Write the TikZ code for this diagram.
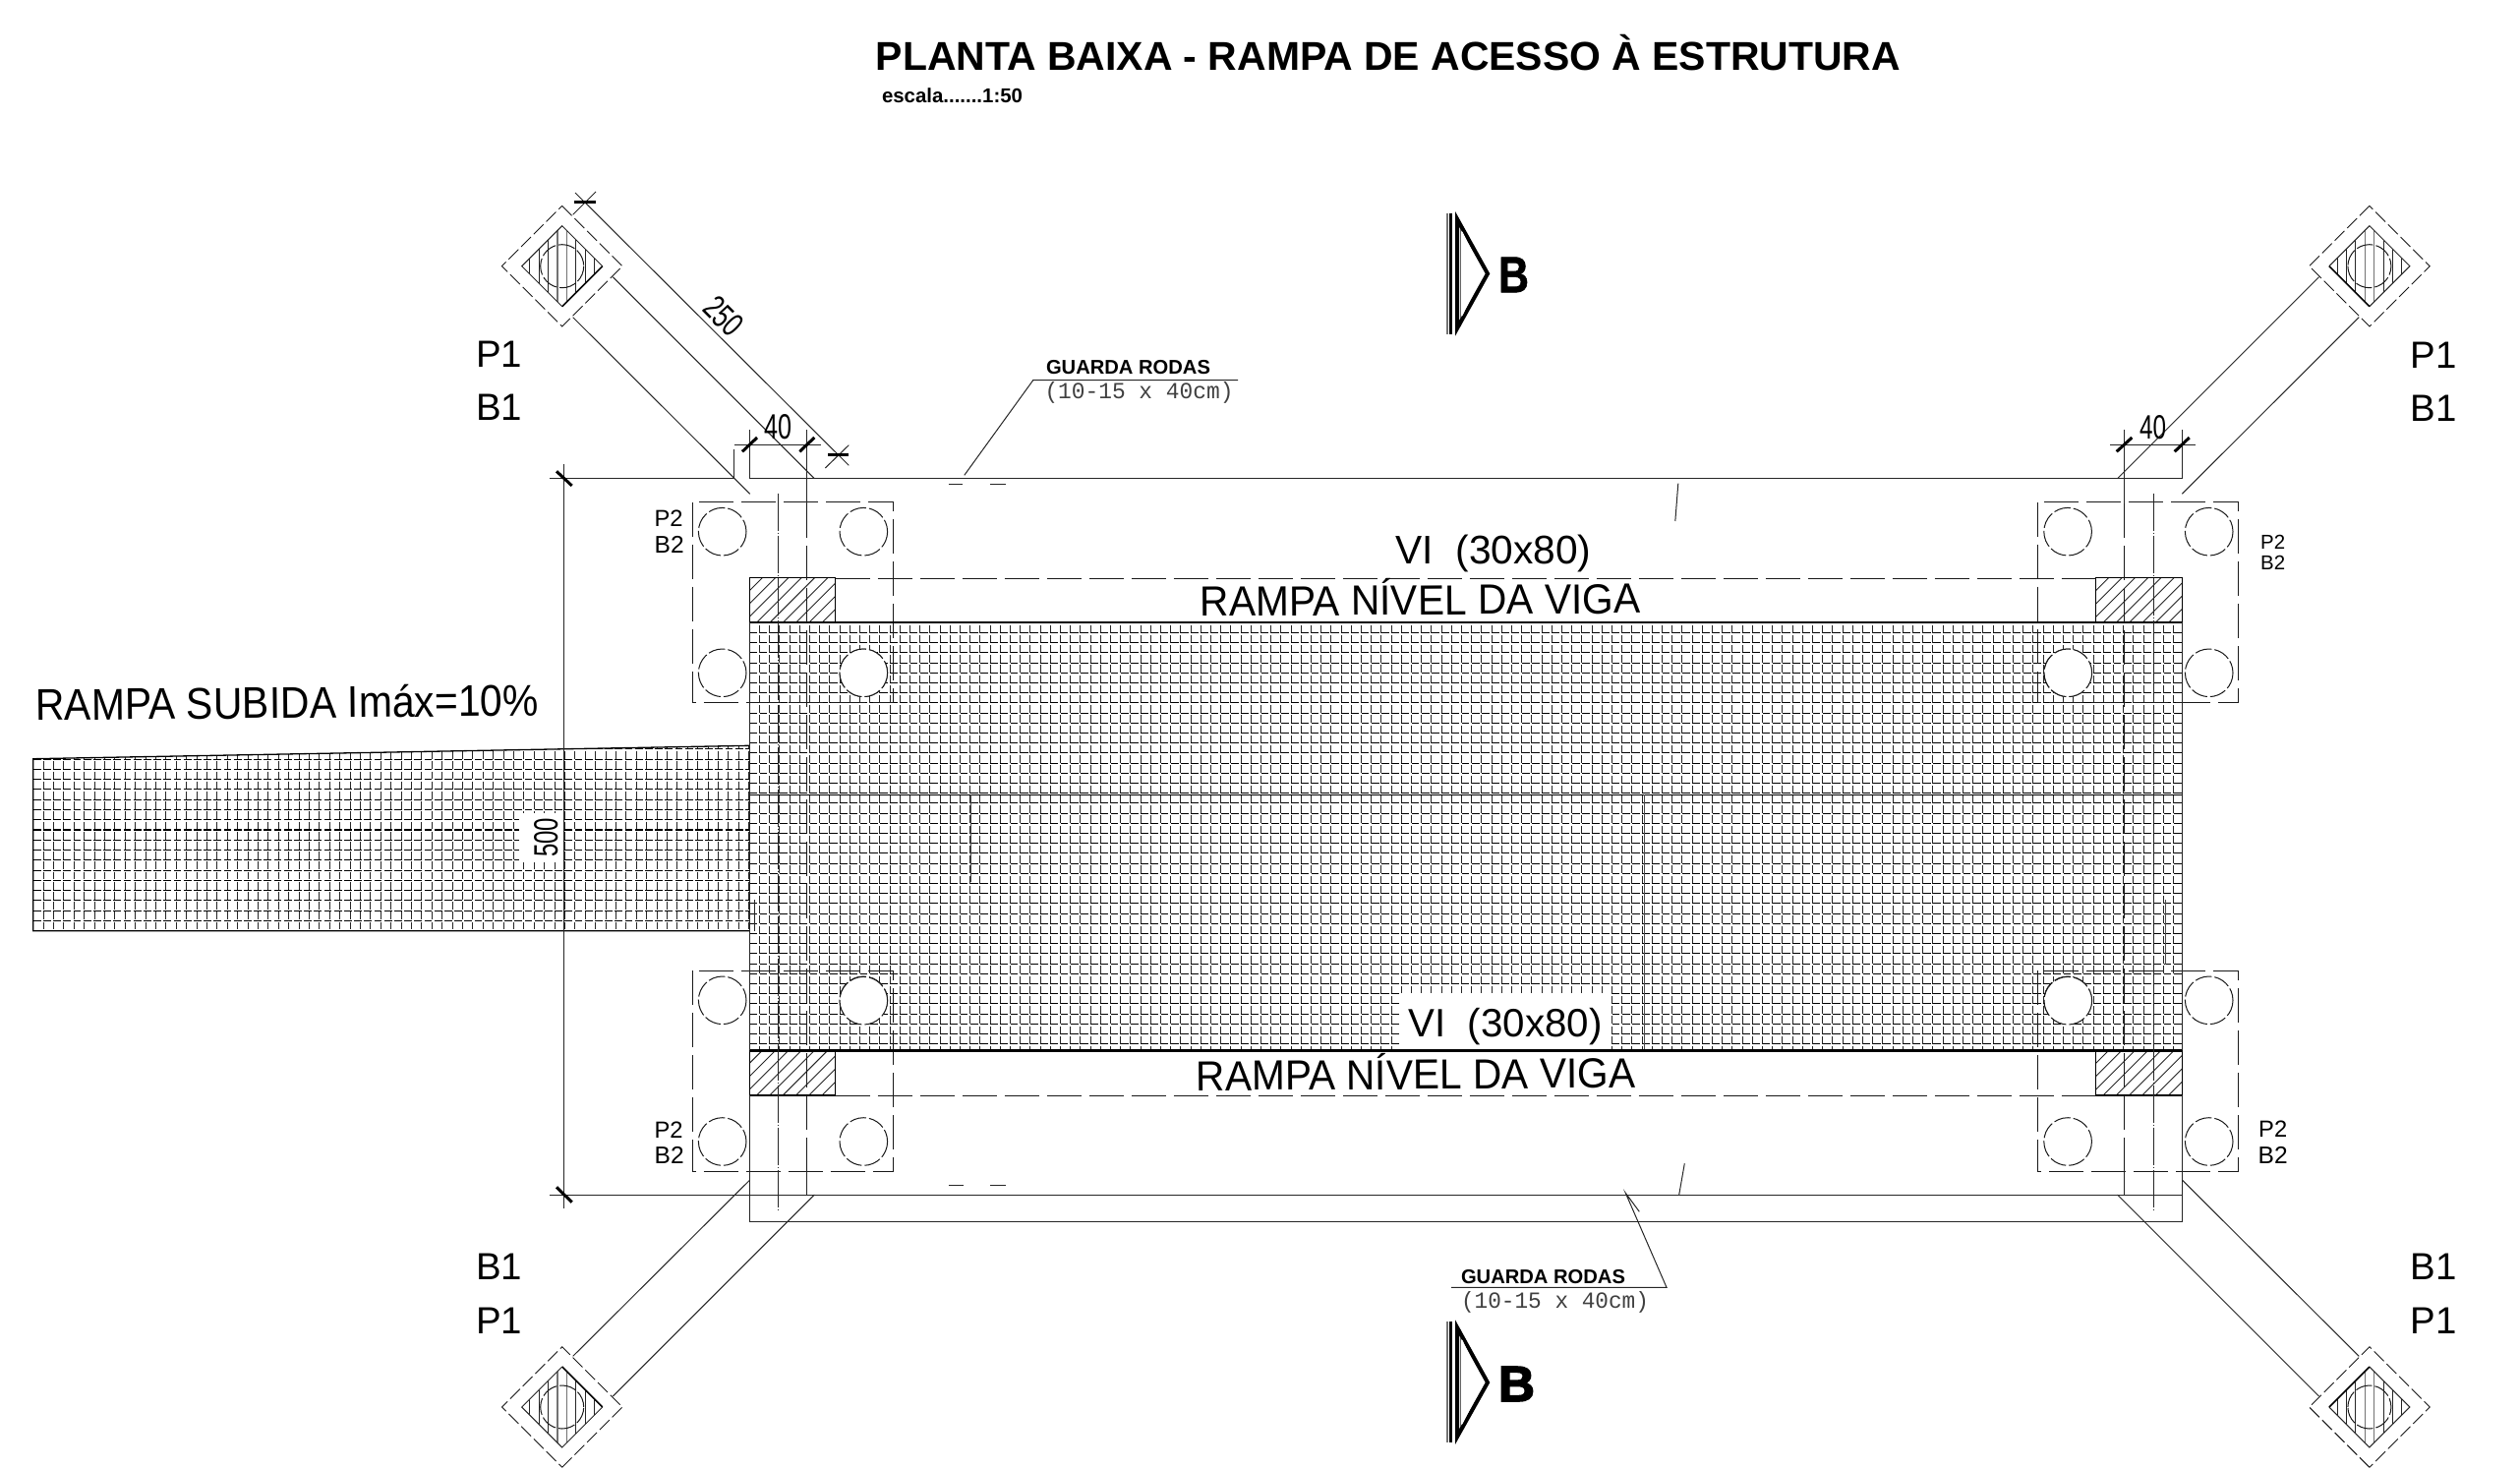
\documentclass[tikz,border=0pt]{standalone}
\usepackage{graphicx}
\usepackage{fontspec}
\setmainfont{Liberation Sans}
\newfontfamily\txtfont{Liberation Mono}
\newfontfamily\heavyfont{Liberation Sans}[BoldFeatures={FakeBold=3}]
\newfontfamily\semifont{Liberation Sans}[BoldFeatures={FakeBold=1.2}]
\newcommand{\fitw}[2]{\resizebox{#1pt}{!}{\fontsize{40}{40}\selectfont #2}}
\newcommand{\fitwh}[3]{\resizebox{#1pt}{#2pt}{\fontsize{40}{40}\selectfont #3}}
\newcommand{\fitwy}[3]{\scalebox{1}[#2]{\resizebox{#1pt}{!}{\fontsize{40}{40}\selectfont #3}}}
\tikzset{
  thin line/.style={line width=1pt,draw=black!85},
  tick line/.style={line width=3pt,draw=black},
  long dash/.style={line width=1pt,draw=black!90,dash pattern=on 35pt off 8pt},
  center line/.style={line width=1pt,draw=black!85,dash pattern=on 38pt off 2pt on 1pt off 2pt},
  circle dash/.style={line width=1pt,draw=black!90,dash pattern=on 17pt off 3pt},
  diamond dash/.style={line width=.9pt,draw=black!90,dash pattern=on 14pt off 4pt},
  mesh v/.style={line width=1.05pt,draw=black!85,dash pattern=on 7.9pt off 2.3pt},
  mesh h/.style={line width=1.05pt,draw=black,dash pattern=on 7.9pt off 2.3pt},
  lab/.style={inner sep=0pt,outer sep=0pt,anchor=center},
}
% pile: local origin is pile centre, band leaves toward +x,+y
\newcommand{\pilemark}[4]{%
  \begin{scope}[shift={(#1,#2)},xscale=#3,yscale=#4]
    \begin{scope}
      \clip (0,-41)--(41,0)--(0,41)--(-41,0)--cycle;
      \foreach \k in {-4,...,3}{\draw[line width=.8pt,draw=black!85] (\k*9.4+4.7,-42)--(\k*9.4+4.7,42);}
      \draw[line width=1.3pt,draw=black!55] (-4.7,-42)--(-4.7,42);
      \draw[line width=1.3pt,draw=black!55] (4.7,-42)--(4.7,42);
    \end{scope}
    \draw[thin line] (41,0)--(0,-41)--(-41,0)--(0,41);
    \draw[line width=1.6pt] (0,41)--(41,0);
    \draw[circle dash] (0,0) circle (22);
    \draw[diamond dash] (0,-61.3)--(61.3,0)--(0,61.3)--(-61.3,0)--cycle;
  \end{scope}}
\newcommand{\hatchblock}[4]{%
  \begin{scope}
    \clip (#1,#2) rectangle (#3,#4);
    \foreach \k in {0,...,12}{\draw[line width=.9pt,draw=black!85] (#1-46+\k*13.3,#4)--++(60,-60);}
  \end{scope}
  \draw[line width=1.5pt] (#1,#2) rectangle (#3,#4);}
\newcommand{\padbox}[4]{%
  \draw[long dash] (#1,#2) rectangle (#3,#4);
  \draw[circle dash] (#1+30.4,#2+30) circle (24.3);
  \draw[circle dash] (#3-30,#2+30) circle (24.3);
  \draw[circle dash] (#1+30.4,#4-30) circle (24.3);
  \draw[circle dash] (#3-30,#4-30) circle (24.3);}
\newcommand{\cutmark}[3]{%
  \draw[line width=2pt,draw=black!55] (1471.5,#1)--(1471.5,#2);
  \draw[line width=3pt] (1475.5,#1)--(1475.5,#2);
  \draw[line width=1.5pt,draw=black!60] (1485.5,#1+8)--(1485.5,#2-8);
  \draw[line width=4pt,miter limit=8] (1482,#1+6)--(1513,#3)--(1482,#2-6)--cycle;
  \draw[line width=.7pt,draw=white] (1487,#1+19)--(1508,#3);
  \draw[line width=.7pt,draw=white] (1487,#2-19)--(1508,#3);}
\begin{document}
\begin{tikzpicture}[x=1pt,y=-1pt]
\useasboundingbox (0,0) rectangle (2563,1493);

% ---- mesh of the platform
\foreach \i in {0,...,142}{\draw[mesh v] (762.3+\i*10.2,635.6)--(762.3+\i*10.2,1068.3);}
\foreach \j in {0,...,41}{\draw[mesh h] (762.3,643.5+\j*10.2)--(2219.3,643.5+\j*10.2);}
% ---- mesh of the ramp
\begin{scope}
  \clip (33.7,771.7)--(762.3,758.3)--(762.3,946.7)--(33.7,946.7)--cycle;
  \foreach \i in {0,...,70}{\draw[mesh v] (33.7+\i*10.4,753.9)--(33.7+\i*10.4,946.7);}
  \foreach \j in {0,...,18}{\draw[mesh h] (33.7,946.7-\j*10.27)--(762.3,946.7-\j*10.27);}
\end{scope}
\draw[line width=1.3pt] (762.3,758.3)--(33.7,771.7)--(33.7,946.7)--(762.3,946.7);
\draw[thin line] (767,915)--(767,946.7);
\fill[white] (528,826.7) rectangle (572.5,876.7);

% ---- lines inside the mesh
\draw[line width=1.3pt] (762.3,808.3)--(2219.3,808.3);
\draw[thin line,draw=black!70] (987.8,808.3)--(987.8,896.7);
\draw[thin line,draw=black!70] (1672.4,808.3)--(1672.4,1068.3);
\draw[thin line,draw=black!70] (2202,915)--(2202,981);

% ---- white box of the lower beam label
\fill[white] (1424,1010) rectangle (1638,1067.3);

% ---- hatched column blocks
\hatchblock{762.3}{587.7}{849.7}{633.3}
\hatchblock{2131.7}{587.7}{2219.3}{633.3}
\hatchblock{762.3}{1068.3}{849.7}{1114}
\hatchblock{2131.7}{1068.3}{2219.3}{1114}

% ---- footing pads
\padbox{704.3}{510.7}{908.3}{714.3}
\padbox{2072.7}{510.7}{2276.7}{714.3}
\padbox{704.3}{987.3}{908.3}{1191}
\padbox{2072.7}{987.3}{2276.7}{1191}
\draw[circle dash,fill=white] (878.3,684.3) circle (24.3);
\draw[circle dash,fill=white] (2103.3,684.3) circle (24.3);
\draw[circle dash,fill=white] (878.3,1017.7) circle (24.3);
\draw[circle dash,fill=white] (2103.3,1017.7) circle (24.3);

% ---- beam edges
\draw[long dash] (849.7,588)--(2131.7,588);
\draw[long dash] (849.7,1114)--(2131.7,1114);
\draw[line width=1.8pt] (762.3,633.3)--(2219.3,633.3);
\draw[line width=2.4pt] (762.3,1068.3)--(2219.3,1068.3);

% ---- outer lines
\draw[thin line] (558.7,486.7)--(746.7,486.7);
\draw[thin line] (762.3,486.7)--(2219.3,486.7);
\draw[thin line] (746.7,456.7)--(746.7,486.7);
\draw[thin line] (762.3,437)--(762.3,486.7);
\draw[thin line] (2219.3,437)--(2219.3,486.7);
\draw[thin line] (558.7,1215)--(2219.3,1215);
\draw[thin line] (762.3,1242.7)--(2219.3,1242.7);
\draw[thin line] (762.3,1114)--(762.3,1242.7);
\draw[thin line] (2219.3,1114)--(2219.3,1242.7);
\draw[thin line] (762.3,633.3)--(762.3,1068.3);
\draw[thin line] (2219.3,633.3)--(2219.3,1068.3);

% ---- centre lines
\draw[center line] (791.3,501.7)--(791.3,1231.7);
\draw[center line] (2190.8,501.7)--(2190.8,1231.7);
\draw[thin line] (820.7,437)--(820.7,512);
\draw[long dash] (820.7,512)--(820.7,1190);
\draw[thin line] (820.7,1190)--(820.7,1215);
\draw[thin line] (2160.7,437)--(2160.7,512);
\draw[long dash] (2160.7,512)--(2160.7,1190);
\draw[thin line] (2160.7,1190)--(2160.7,1215);

% ---- diagonal braces to piles
\pilemark{571.7}{270.7}{1}{1}
\pilemark{2409.9}{270.7}{-1}{1}
\pilemark{571.7}{1431}{1}{-1}
\pilemark{2409.9}{1431}{-1}{-1}
\draw[thin line] (582.7,322.7)--(762.7,502.3);
\draw[thin line] (623.3,281.7)--(828.3,486.7);
\draw[thin line] (2399.2,322.7)--(2219.3,502.3);
\draw[thin line] (2358.5,281.7)--(2153.5,486.7);
\draw[thin line] (582.7,1379.3)--(762.7,1200);
\draw[thin line] (623.3,1420)--(828.3,1215);
\draw[thin line] (2399.2,1379.3)--(2219.3,1200);
\draw[thin line] (2358.5,1420)--(2153.5,1215);

% ---- dimensions
\draw[thin line] (573.7,472.3)--(573.7,1229);
\draw[tick line] (566,479.3)--(581.7,494);
\draw[tick line] (566,1207.3)--(581.7,1222.7);
\draw[thin line] (585,196)--(863.3,473.3);
\draw[thin line] (582.7,218.3)--(606,195);
\draw[tick line] (584.3,205)--(606,205);
\draw[thin line] (839.3,476)--(863.3,452.7);
\draw[tick line] (842.3,462.7)--(863.3,462.7);
\draw[thin line] (746.7,452.3)--(835.3,452.3);
\draw[tick line] (755,459.3)--(770,445);
\draw[tick line] (813.3,459.3)--(828.3,445);
\draw[thin line] (2146,452.3)--(2233,452.3);
\draw[tick line] (2152.7,459.3)--(2168.3,445);
\draw[tick line] (2211.7,459.3)--(2226.7,445);

% ---- guard-wheel leaders and small marks
\draw[thin line] (1259,386.7)--(1050.7,386.7)--(980.8,483.3);
\draw[thin line] (964.5,492.7)--(978.8,492.7);
\draw[thin line] (1007,492.7)--(1022.6,492.7);
\draw[thin line] (1706.8,491.7)--(1703.8,530);
\draw[thin line] (1476,1309.3)--(1695,1309.3)--(1653.3,1213.3)--(1667.3,1232.3);
\draw[thin line] (964.5,1205)--(980,1205);
\draw[thin line] (1007,1205)--(1022.6,1205);
\draw[thin line] (1707.7,1215)--(1713.3,1183.3);

% ---- section marks
\cutmark{216.7}{340}{278.3}
\cutmark{1344}{1467.3}{1406}

% ---- texts
\node[lab] (title) at (1412,54) {\fitw{1042}{\bfseries PLANTA BAIXA - RAMPA DE ACESSO À ESTRUTURA}};
\node[lab] (scale) at (968.5,97) {\fitw{143}{\bfseries escala.......1:50}};
\node[lab] (gr1) at (1147.5,373.5) {\fitw{167}{\bfseries GUARDA RODAS}};
\node[lab,text=black!75] (gr1s) at (1158.5,399) {\fitwh{192}{17}{\txtfont (10-15 x 40cm)}};
\node[lab] (gr2) at (1569.5,1299) {\fitw{167}{\bfseries GUARDA RODAS}};
\node[lab,text=black!75] (gr2s) at (1581.5,1324) {\fitwh{191}{17}{\txtfont (10-15 x 40cm)}};
\node[lab] (bt) at (1539.5,279.5) {\fitwh{31}{35.7}{\semifont\bfseries B}};
\node[lab] (bb) at (1542.5,1407.5) {\fitwh{37}{35}{\heavyfont\bfseries B}};
\node[lab] (p1a) at (507.7,360) {\fitw{47}{P1}};
\node[lab] (b1a) at (507.7,414) {\fitw{47}{B1}};
\node[lab] (p1b) at (2475,361) {\fitw{47}{P1}};
\node[lab] (b1b) at (2475,415) {\fitw{47}{B1}};
\node[lab] (b1c) at (507.7,1288) {\fitw{47}{B1}};
\node[lab] (p1c) at (507.7,1343) {\fitw{47}{P1}};
\node[lab] (b1d) at (2475,1288) {\fitw{47}{B1}};
\node[lab] (p1d) at (2475,1343) {\fitw{47}{P1}};
\node[lab] (p2a) at (680,527) {\fitw{29}{P2}};
\node[lab] (b2a) at (680.7,554) {\fitw{30}{B2}};
\node[lab] (p2b) at (2311.7,551.7) {\fitw{25}{P2}};
\node[lab] (b2b) at (2311.7,572.7) {\fitw{25}{B2}};
\node[lab] (p2c) at (680,1149) {\fitw{29}{P2}};
\node[lab] (b2c) at (680.7,1175) {\fitw{30}{B2}};
\node[lab] (p2d) at (2311.7,1148.3) {\fitw{29}{P2}};
\node[lab] (b2d) at (2311.7,1175) {\fitw{30}{B2}};
\node[lab] (d250) at (736,321.7) [rotate=-45] {\fitwh{41}{24}{250}};
\node[lab] (d40a) at (791,434) {\fitwh{28}{25}{40}};
\node[lab] (d40b) at (2189.7,434.5) {\fitwh{27}{24}{40}};
\node[lab] (d500) at (555.3,851.7) [rotate=90] {\fitwh{40}{24}{500}};
\node[lab] (vi1) at (1519,563) {\fitw{199}{VI\ \ (30x80)}};
\node[lab] (vi2) at (1531,1044) {\fitw{197}{VI\ \ (30x80)}};
\node[lab] (rn1) at (1444.6,607) [rotate=.4] {\fitwy{448}{1.05}{RAMPA NÍVEL DA VIGA}};
\node[lab] (rn2) at (1440,1089.5) [rotate=.4] {\fitwy{447}{1.05}{RAMPA NÍVEL DA VIGA}};
\node[lab] (rs) at (292,714) [rotate=.56] {\fitwy{512}{1.1}{RAMPA SUBIDA Imáx=10\%}};
\end{tikzpicture}
\end{document}
